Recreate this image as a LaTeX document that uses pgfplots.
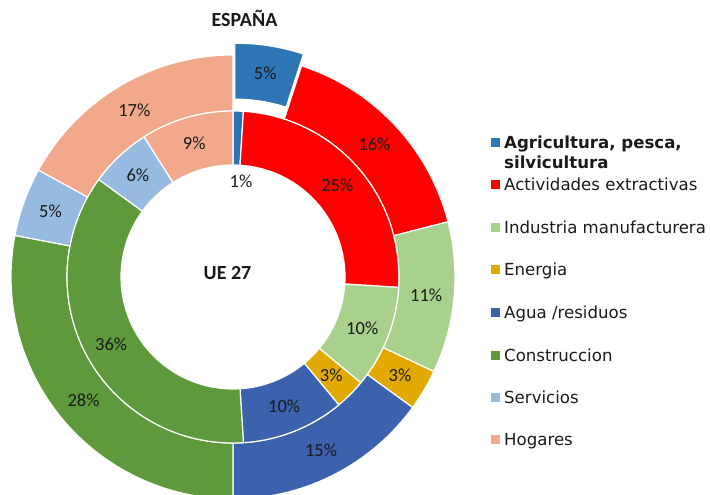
\documentclass[border=0pt]{standalone}
\usepackage{pgfplots}
\pgfplotsset{compat=1.18}
\usepackage{pgfplotstable}
\usepackage{fontspec}
\setmainfont{DejaVu Sans}
\newfontfamily\calibri{Carlito}

\definecolor{c0}{HTML}{2E75B6}
\definecolor{c1}{HTML}{FF0000}
\definecolor{c2}{HTML}{A9D18E}
\definecolor{c3}{HTML}{E2A900}
\definecolor{c4}{HTML}{3C62AE}
\definecolor{c5}{HTML}{5E9A3B}
\definecolor{c6}{HTML}{97BAE1}
\definecolor{c7}{HTML}{F2A88B}
\definecolor{txt}{HTML}{1A1A1A}

% ESPANA (outer ring), UE 27 (inner ring), percentages, clockwise from 12 o'clock
\pgfplotstableread{
idx spain eu explode
0   5     1  12
1   16    25 0
2   11    10 0
3   3     3  0
4   15    10 0
5   28    36 0
6   5     6  0
7   17    9  0
}\datatable

\tikzset{plab/.style={font=\calibri\fontsize{18.5}{22}\selectfont, text=txt, inner sep=0pt},
         leg/.style={font=\fontsize{16.6}{19}\selectfont, text=txt, inner sep=0pt, anchor=base west}}

\begin{document}
\begin{tikzpicture}
\begin{axis}[
  at={(0,0)}, anchor=south west,
  scale only axis, width=710pt, height=495pt,
  xmin=-233, xmax=477, ymin=-218, ymax=277,
  hide axis,
]
\def\cumS{0}
\def\cumE{0}
\begin{scope}[shift={(axis cs:0,0)}]
\pgfplotsforeachungrouped \i in {0,...,7}{%
  \pgfplotstablegetelem{\i}{spain}\of\datatable \let\vS\pgfplotsretval
  \pgfplotstablegetelem{\i}{eu}\of\datatable \let\vE\pgfplotsretval
  \pgfplotstablegetelem{\i}{explode}\of\datatable \let\ex\pgfplotsretval
  \pgfmathsetmacro\sa{90-3.6*\cumS}%
  \pgfmathsetmacro\sb{90-3.6*(\cumS+\vS)}%
  \pgfmathsetmacro\sm{(\sa+\sb)/2}%
  \pgfmathsetmacro\ea{90-3.6*\cumE}%
  \pgfmathsetmacro\eb{90-3.6*(\cumE+\vE)}%
  \pgfmathsetmacro\emid{(\ea+\eb)/2}%
  \pgfmathsetmacro\lr{194+\ex}%
  \edef\cmd{%
    \noexpand\filldraw[fill=c\i, draw=white, line width=1.2pt, shift={(\sm:\ex pt)}]
      (\sa:222pt) arc[start angle=\sa, end angle=\sb, radius=222pt]
      -- (\sb:166pt) arc[start angle=\sb, end angle=\sa, radius=166pt] -- cycle;
    \noexpand\filldraw[fill=c\i, draw=white, line width=1.2pt]
      (\ea:166pt) arc[start angle=\ea, end angle=\eb, radius=166pt]
      -- (\eb:112pt) arc[start angle=\eb, end angle=\ea, radius=112pt] -- cycle;
    \noexpand\node[plab] at (\sm:\lr pt) {\vS\%};
    \ifnum\i>0 \noexpand\node[plab] at (\emid:139pt) {\vE\%};\fi
  }\cmd
  \pgfmathsetmacro\cumS{\cumS+\vS}%
  \pgfmathsetmacro\cumE{\cumE+\vE}%
}
\end{scope}
\node[plab] at (axis cs:8,96) {1\%};

% titles
\node[font=\calibri\bfseries\fontsize{20}{24}\selectfont, text=txt, anchor=base, inner sep=0pt] at (axis cs:11.5,250.3) {ESPAÑA};
\node[font=\calibri\bfseries\fontsize{20}{24}\selectfont, text=txt, anchor=base, inner sep=0pt] at (axis cs:-5.5,-2.3) {UE 27};

% legend
\fill[c0] (axis cs:258,130) rectangle (axis cs:267,139);
\node[leg, font=\bfseries\fontsize{16.6}{19}\selectfont] at (axis cs:271,128.7) {Agricultura, pesca,};
\node[leg, font=\bfseries\fontsize{16.6}{19}\selectfont] at (axis cs:271,108.7) {silvicultura};
\fill[c1] (axis cs:258,88) rectangle (axis cs:267,97);
\node[leg] at (axis cs:271,86.7) {Actividades extractivas};
\fill[c2] (axis cs:258,45) rectangle (axis cs:267,54);
\node[leg] at (axis cs:271,43.7) {Industria manufacturera};
\fill[c3] (axis cs:258,2.5) rectangle (axis cs:267,11.5);
\node[leg] at (axis cs:271,1.2) {Energia};
\fill[c4] (axis cs:258,-40.5) rectangle (axis cs:267,-31.5);
\node[leg] at (axis cs:271,-41.8) {Agua /residuos};
\fill[c5] (axis cs:258,-83) rectangle (axis cs:267,-74);
\node[leg] at (axis cs:271,-84.3) {Construccion};
\fill[c6] (axis cs:258,-125) rectangle (axis cs:267,-116);
\node[leg] at (axis cs:271,-126.3) {Servicios};
\fill[c7] (axis cs:258,-167.5) rectangle (axis cs:267,-158.5);
\node[leg] at (axis cs:271,-168.8) {Hogares};
\end{axis}
\pgfresetboundingbox
\path[use as bounding box] (0,0) rectangle (710pt,495pt);
\end{tikzpicture}
\end{document}
